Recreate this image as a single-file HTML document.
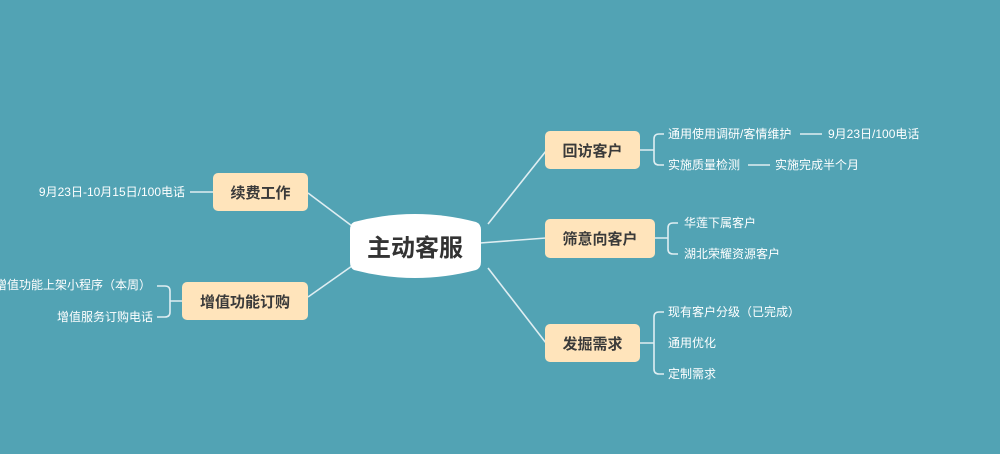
<!DOCTYPE html>
<html><head><meta charset="utf-8"><style>
body{margin:0;width:1000px;height:454px;background:#52a3b4;overflow:hidden;position:relative;font-family:"Liberation Sans","Noto Sans CJK SC",sans-serif}
.b{position:absolute;background:#ffe4bb;border-radius:5px;color:#3a3a3a;font-weight:bold;font-size:15px;display:flex;align-items:center;justify-content:center}
.t{position:absolute;color:#fff;font-size:12px;line-height:14px;white-space:nowrap}
.r{text-align:right}
</style></head><body>
<svg width="1000" height="454" style="position:absolute;left:0;top:0">
<g stroke="#dfeef2" stroke-width="1.6" fill="none">
<path d="M488 224 L546 151"/>
<path d="M480 243 L546 238"/>
<path d="M488 268 L546 343"/>
<path d="M308 193 L352 226"/>
<path d="M308 297 L352 266"/>
<path d="M639 150 H654 M664 134 H659 Q654 134 654 139 V160 Q654 165 659 165 H664"/>
<path d="M800 134 H822 M748 165 H770"/>
<path d="M655 238 H668 M678 223 H673 Q668 223 668 228 V249 Q668 254 673 254 H678"/>
<path d="M639 343 H654 M664 312 H659 Q654 312 654 317 V369 Q654 374 659 374 H664"/>
<path d="M190 192 H213"/>
<path d="M182 301 H170 M157 286 H165 Q170 286 170 291 V312 Q170 317 165 317 H157"/>
</g>
<path d="M354 222 Q415 206 476 222 Q481 224 481 230 V262 Q481 268 476 270 Q415 286 354 270 Q350 268 350 262 V230 Q350 224 354 222 Z" fill="#fff"/>
<text x="415" y="256" text-anchor="middle" font-size="24" font-weight="bold" fill="#333" font-family="Liberation Sans, Noto Sans CJK SC, sans-serif">主动客服</text>
</svg>
<div class="b" style="left:545px;top:131px;width:95px;height:38px">回访客户</div>
<div class="b" style="left:545px;top:219px;width:110px;height:39px">筛意向客户</div>
<div class="b" style="left:545px;top:324px;width:95px;height:38px">发掘需求</div>
<div class="b" style="left:213px;top:173px;width:95px;height:38px">续费工作</div>
<div class="b" style="left:182px;top:282px;width:126px;height:38px">增值功能订购</div>
<div class="t" style="left:668px;top:127px">通用使用调研/客情维护</div>
<div class="t" style="left:828px;top:127px">9月23日/100电话</div>
<div class="t" style="left:668px;top:158px">实施质量检测</div>
<div class="t" style="left:775px;top:158px">实施完成半个月</div>
<div class="t" style="left:684px;top:216px">华莲下属客户</div>
<div class="t" style="left:684px;top:247px">湖北荣耀资源客户</div>
<div class="t" style="left:668px;top:305px">现有客户分级（已完成）</div>
<div class="t" style="left:668px;top:336px">通用优化</div>
<div class="t" style="left:668px;top:367px">定制需求</div>
<div class="t r" style="right:815px;top:185px">9月23日-10月15日/100电话</div>
<div class="t r" style="right:849px;top:278px">增值功能上架小程序（本周）</div>
<div class="t r" style="right:847px;top:310px">增值服务订购电话</div>
</body></html>
